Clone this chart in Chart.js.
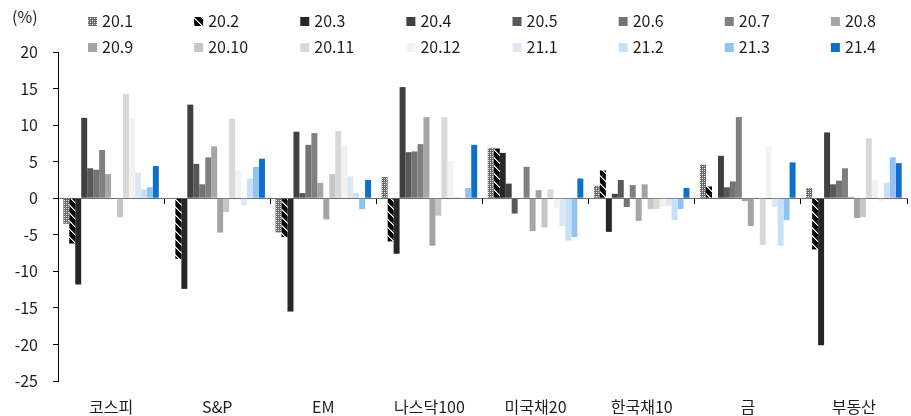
<!DOCTYPE html>
<html>
<head>
<meta charset="utf-8">
<script src="https://cdn.jsdelivr.net/npm/chart.js@4.4.1/dist/chart.umd.min.js"></script>
<style>
  html, body { margin: 0; padding: 0; background: #ffffff; }
  canvas { display: block; }
</style>
</head>
<body>
<canvas id="chart" width="911" height="416"></canvas>
<script>
// Asset classes on the x axis
const categories = ['코스피', 'S&P', 'EM', '나스닥100', '미국채20', '한국채10', '금', '부동산'];

// Monthly returns (%) per asset class, one array per month
const m20_1  = [-3.5,   0.0,  -4.7,   2.9,  6.9,  1.7,  4.6,   1.4];
const m20_2  = [-6.2,  -8.3,  -5.3,  -5.9,  6.8,  3.8,  1.6,  -7.0];
const m20_3  = [-11.8, -12.4, -15.5, -7.6,  6.2, -4.6,  0.0, -20.1];
const m20_4  = [11.0,  12.8,   9.1,  15.2,  2.0,  0.6,  5.8,   9.0];
const m20_5  = [4.1,    4.7,   0.7,   6.3, -2.1,  2.5,  1.5,   1.9];
const m20_6  = [3.9,    1.9,   7.3,   6.4,  0.0, -1.2,  2.3,   2.4];
const m20_7  = [6.6,    5.6,   8.9,   7.4,  4.3,  1.8, 11.1,   4.1];
const m20_8  = [3.3,    7.1,   2.1,  11.1, -4.5, -3.1, -0.4,   0.2];
const m20_9  = [0.0,   -4.7,  -2.9,  -6.5,  1.1,  1.9, -3.8,  -2.7];
const m20_10 = [-2.6,  -1.9,   3.3,  -2.4, -4.0, -1.5,  0.0,  -2.6];
const m20_11 = [14.3,  10.9,   9.2,  11.1,  1.2, -1.5, -6.4,   8.2];
const m20_12 = [10.9,   3.8,   7.3,   5.1, -1.3, -1.2,  7.0,   2.5];
const m21_1  = [3.5,   -1.0,   3.0,   0.2, -3.8, -1.0, -1.2,  -0.3];
const m21_2  = [1.2,    2.7,   0.7,   0.0, -5.8, -3.0, -6.5,   2.1];
const m21_3  = [1.5,    4.3,  -1.5,   1.4, -5.3, -1.5, -3.0,   5.6];
const m21_4  = [4.4,    5.4,   2.5,   7.3,  2.7,  1.4,  4.9,   4.8];

const seriesLabels = ['20.1', '20.2', '20.3', '20.4', '20.5', '20.6', '20.7', '20.8',
                      '20.9', '20.10', '20.11', '20.12', '21.1', '21.2', '21.3', '21.4'];
const seriesValues = [m20_1, m20_2, m20_3, m20_4, m20_5, m20_6, m20_7, m20_8,
                      m20_9, m20_10, m20_11, m20_12, m21_1, m21_2, m21_3, m21_4];

// y axis range and step
const yMin = -25;
const yMax = 20;
const yStep = 5;

const FONT = "'Noto Sans CJK KR', 'Noto Sans', sans-serif";
const TEXT = '#1e1e1e';

// Fill patterns for the first two months
function dotPattern() {
  const c = document.createElement('canvas');
  c.width = 4; c.height = 4;
  const g = c.getContext('2d');
  g.fillStyle = '#6a6a6a'; g.fillRect(0, 0, 4, 4);
  g.fillStyle = '#ffffff'; g.fillRect(0, 0, 1, 1); g.fillRect(2, 2, 1, 1);
  g.fillStyle = '#c4c4c4'; g.fillRect(2, 0, 1, 1); g.fillRect(0, 2, 1, 1);
  return g.createPattern(c, 'repeat');
}
function stripePattern() {
  const s = 8;
  const c = document.createElement('canvas');
  c.width = s; c.height = s;
  const g = c.getContext('2d');
  g.fillStyle = '#000000'; g.fillRect(0, 0, s, s);
  for (let i = 0; i < s; i++) {
    g.fillStyle = '#ffffff'; g.fillRect(i, i, 1, 1);
    g.fillStyle = '#9a9a9a'; g.fillRect((i + 1) % s, i, 1, 1);
  }
  return g.createPattern(c, 'repeat');
}

const fills = [
  dotPattern(), stripePattern(), '#262626', '#404040', '#595959', '#737373', '#808080', '#a6a6a6',
  '#a3a3a3', '#c6c6c6', '#d9d9d9', '#f2f2f2', '#dde8f5', '#c6e0fa', '#8fc3f4', '#0f6fcd'
];

const datasets = seriesLabels.map((label, i) => ({
  label,
  data: seriesValues[i],
  backgroundColor: fills[i],
  borderWidth: 0,
  barPercentage: 1.0,
  categoryPercentage: 0.9,
  xAxisID: 'x',
  yAxisID: 'y'
}));

// Two-row key across the top plus the unit label
const keyPlugin = {
  id: 'monthKey',
  afterDraw(chart) {
    const { ctx, chartArea } = chart;
    const colW = chartArea.width / 8;
    ctx.save();
    ctx.font = `16px ${FONT}`;
    ctx.textBaseline = 'middle';
    ctx.textAlign = 'left';
    chart.data.datasets.forEach((ds, i) => {
      const col = i % 8;
      const row = Math.floor(i / 8);
      const x = chartArea.left + 30 + col * colW;
      const y = 21 + row * 26;
      ctx.fillStyle = ds.backgroundColor;
      ctx.fillRect(x, y - 4, 9, 9);
      ctx.fillStyle = TEXT;
      ctx.fillText(ds.label, x + 14, y);
    });
    ctx.fillStyle = TEXT;
    ctx.fillText('(%)', 12, 17);
    ctx.restore();
  }
};

new Chart(document.getElementById('chart'), {
  type: 'bar',
  data: { labels: categories, datasets },
  plugins: [keyPlugin],
  options: {
    responsive: false,
    animation: false,
    layout: { padding: { top: 52, right: 4, left: 0, bottom: 0 } },
    plugins: { legend: { display: false }, tooltip: { enabled: false } },
    scales: {
      x: {
        type: 'category',
        position: { y: 0 },
        offset: true,
        grid: { display: true, offset: true, drawOnChartArea: false, drawTicks: true, tickLength: 5, color: '#000000' },
        border: { display: true, color: '#6e6e6e', width: 1 },
        ticks: { display: false }
      },
      x2: {
        type: 'category',
        labels: categories,
        position: 'bottom',
        offset: true,
        grid: { display: false, drawTicks: false },
        border: { display: false },
        ticks: { font: { family: FONT, size: 16 }, color: TEXT, padding: 16, maxRotation: 0, autoSkip: false },
        afterFit(scale) { scale.height = 35; }
      },
      y: {
        min: yMin,
        max: yMax,
        ticks: { stepSize: yStep, font: { family: FONT, size: 16 }, color: TEXT, padding: 15 },
        grid: { drawOnChartArea: false, drawTicks: true, tickLength: 5, color: '#000000' },
        border: { display: true, color: '#000000', width: 1 },
        afterFit(scale) { scale.width = 58; }
      }
    }
  }
});
</script>
</body>
</html>
